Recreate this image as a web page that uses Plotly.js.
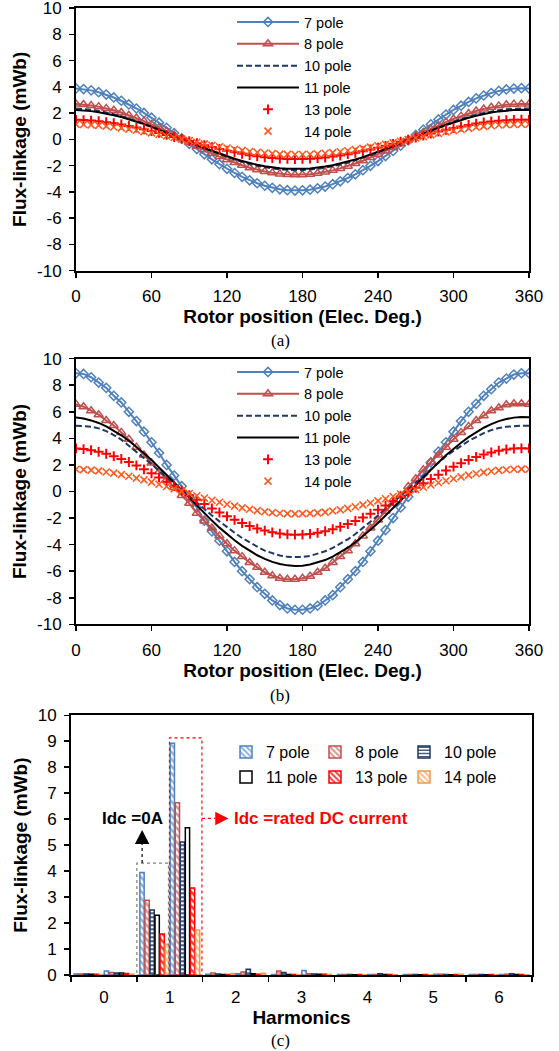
<!DOCTYPE html>
<html><head><meta charset="utf-8">
<script src="https://cdn.plot.ly/plotly-3.0.1.min.js"></script>
<style>html,body{margin:0;padding:0;background:#fff}#chart{width:559px;height:1051px}</style>
</head><body><div id="chart"></div>
<script>
// ---------- data ----------
const angles = [0,6,12,18,24,30,36,42,48,54,60,66,72,78,84,90,96,102,108,114,120,126,132,138,144,150,156,162,168,174,180,186,192,198,204,210,216,222,228,234,240,246,252,258,264,270,276,282,288,294,300,306,312,318,324,330,336,342,348,354,360];
const poleNames = ['7 pole','8 pole','10 pole','11 pole','13 pole','14 pole'];
const xTicks = [0,60,120,180,240,300,360];
const yTicks = [-10,-8,-6,-4,-2,0,2,4,6,8,10];
const yTickText = ['-10','-8','-6','-4','-2','0','2','4','6','8','10'];

// (a) Idc = 0
const a7 = [3.88,3.83,3.73,3.59,3.41,3.19,2.94,2.66,2.35,2.01,1.65,1.27,0.88,0.48,0.07,-0.34,-0.74,-1.14,-1.52,-1.89,-2.24,-2.56,-2.85,-3.12,-3.34,-3.53,-3.69,-3.80,-3.87,-3.90,-3.88,-3.83,-3.73,-3.59,-3.41,-3.19,-2.94,-2.66,-2.35,-2.01,-1.65,-1.27,-0.88,-0.48,-0.07,0.34,0.74,1.14,1.52,1.89,2.24,2.56,2.85,3.12,3.34,3.53,3.69,3.80,3.87,3.90,3.88];
const a8 = [2.69,2.65,2.58,2.49,2.36,2.21,2.04,1.84,1.63,1.39,1.14,0.88,0.61,0.33,0.05,-0.23,-0.52,-0.79,-1.06,-1.31,-1.55,-1.77,-1.97,-2.16,-2.31,-2.45,-2.55,-2.63,-2.68,-2.70,-2.69,-2.65,-2.58,-2.49,-2.36,-2.21,-2.04,-1.84,-1.63,-1.39,-1.14,-0.88,-0.61,-0.33,-0.05,0.23,0.52,0.79,1.06,1.31,1.55,1.77,1.97,2.16,2.31,2.45,2.55,2.63,2.68,2.70,2.69];
const a10 = [2.34,2.31,2.25,2.16,2.06,1.92,1.77,1.60,1.41,1.21,0.99,0.77,0.53,0.29,0.04,-0.20,-0.45,-0.69,-0.92,-1.14,-1.35,-1.54,-1.72,-1.88,-2.01,-2.13,-2.22,-2.29,-2.33,-2.35,-2.34,-2.31,-2.25,-2.16,-2.06,-1.92,-1.77,-1.60,-1.41,-1.21,-0.99,-0.77,-0.53,-0.29,-0.04,0.20,0.45,0.69,0.92,1.14,1.35,1.54,1.72,1.88,2.01,2.13,2.22,2.29,2.33,2.35,2.34];
const a11 = [2.24,2.21,2.15,2.07,1.97,1.84,1.70,1.53,1.35,1.16,0.95,0.73,0.51,0.27,0.04,-0.20,-0.43,-0.66,-0.88,-1.09,-1.29,-1.48,-1.64,-1.80,-1.93,-2.04,-2.13,-2.19,-2.23,-2.25,-2.24,-2.21,-2.15,-2.07,-1.97,-1.84,-1.70,-1.53,-1.35,-1.16,-0.95,-0.73,-0.51,-0.27,-0.04,0.20,0.43,0.66,0.88,1.09,1.29,1.48,1.64,1.80,1.93,2.04,2.13,2.19,2.23,2.25,2.24];
const a13 = [1.49,1.47,1.43,1.38,1.31,1.23,1.13,1.02,0.90,0.77,0.63,0.49,0.34,0.18,0.03,-0.13,-0.29,-0.44,-0.59,-0.73,-0.86,-0.98,-1.10,-1.20,-1.29,-1.36,-1.42,-1.46,-1.49,-1.50,-1.49,-1.47,-1.43,-1.38,-1.31,-1.23,-1.13,-1.02,-0.90,-0.77,-0.63,-0.49,-0.34,-0.18,-0.03,0.13,0.29,0.44,0.59,0.73,0.86,0.98,1.10,1.20,1.29,1.36,1.42,1.46,1.49,1.50,1.49];
const a14 = [1.15,1.13,1.10,1.06,1.01,0.94,0.87,0.78,0.69,0.59,0.49,0.37,0.26,0.14,0.02,-0.10,-0.22,-0.34,-0.45,-0.56,-0.66,-0.75,-0.84,-0.92,-0.99,-1.04,-1.09,-1.12,-1.14,-1.15,-1.15,-1.13,-1.10,-1.06,-1.01,-0.94,-0.87,-0.78,-0.69,-0.59,-0.49,-0.37,-0.26,-0.14,-0.02,0.10,0.22,0.34,0.45,0.56,0.66,0.75,0.84,0.92,0.99,1.04,1.09,1.12,1.14,1.15,1.15];

// (b) Idc = rated DC current
const b7 = [8.90,8.85,8.60,8.20,7.80,7.20,6.70,6.00,5.30,4.50,3.70,2.90,2.00,1.20,0.40,-0.40,-1.20,-2.20,-3.00,-3.70,-4.50,-5.30,-6.00,-6.60,-7.20,-7.70,-8.20,-8.55,-8.80,-8.90,-8.90,-8.80,-8.60,-8.20,-7.80,-7.20,-6.60,-6.00,-5.30,-4.50,-3.70,-2.90,-2.00,-1.20,-0.40,0.50,1.30,2.20,3.00,3.70,4.50,5.30,6.00,6.60,7.20,7.70,8.20,8.50,8.80,8.90,8.90];
const b8 = [6.56,6.38,6.08,5.78,5.34,4.97,4.45,3.93,3.34,2.75,2.15,1.49,0.89,0.30,-0.30,-0.89,-1.63,-2.22,-2.75,-3.34,-3.93,-4.45,-4.90,-5.34,-5.71,-6.08,-6.34,-6.53,-6.60,-6.60,-6.53,-6.38,-6.08,-5.78,-5.34,-4.90,-4.45,-3.93,-3.34,-2.75,-2.15,-1.49,-0.89,-0.30,0.37,0.96,1.63,2.22,2.75,3.34,3.93,4.45,4.90,5.34,5.71,6.08,6.30,6.53,6.60,6.60,6.56];
const b10 = [4.95,4.94,4.88,4.75,4.55,4.25,3.90,3.45,3.00,2.50,2.05,1.55,1.05,0.55,0.10,-0.35,-0.85,-1.35,-1.80,-2.25,-2.70,-3.10,-3.50,-3.85,-4.15,-4.45,-4.65,-4.82,-4.92,-4.95,-4.93,-4.85,-4.70,-4.50,-4.25,-3.95,-3.60,-3.20,-2.75,-2.30,-1.80,-1.30,-0.80,-0.30,0.20,0.70,1.20,1.70,2.20,2.65,3.05,3.45,3.80,4.10,4.40,4.62,4.78,4.88,4.94,4.95,4.95];
const b11 = [5.58,5.50,5.35,5.16,4.90,4.59,4.23,3.82,3.37,2.88,2.37,1.83,1.26,0.68,0.10,-0.49,-1.07,-1.64,-2.19,-2.72,-3.21,-3.67,-4.09,-4.47,-4.80,-5.07,-5.30,-5.45,-5.56,-5.60,-5.58,-5.50,-5.35,-5.16,-4.90,-4.59,-4.23,-3.82,-3.37,-2.88,-2.37,-1.83,-1.26,-0.68,-0.10,0.49,1.07,1.64,2.19,2.72,3.21,3.67,4.09,4.47,4.80,5.07,5.30,5.45,5.56,5.60,5.58];
const b13 = [3.24,3.19,3.11,2.99,2.84,2.66,2.45,2.22,1.96,1.67,1.37,1.06,0.73,0.40,0.06,-0.28,-0.62,-0.95,-1.27,-1.58,-1.87,-2.13,-2.38,-2.60,-2.79,-2.94,-3.07,-3.17,-3.23,-3.25,-3.24,-3.19,-3.11,-2.99,-2.84,-2.66,-2.45,-2.22,-1.96,-1.67,-1.37,-1.06,-0.73,-0.40,-0.06,0.28,0.62,0.95,1.27,1.58,1.87,2.13,2.38,2.60,2.79,2.94,3.07,3.17,3.23,3.25,3.24];
const b14 = [1.67,1.65,1.61,1.55,1.47,1.38,1.27,1.15,1.01,0.87,0.71,0.55,0.38,0.20,0.03,-0.15,-0.32,-0.49,-0.66,-0.81,-0.96,-1.10,-1.23,-1.34,-1.44,-1.52,-1.59,-1.64,-1.67,-1.68,-1.67,-1.65,-1.61,-1.55,-1.47,-1.38,-1.27,-1.15,-1.01,-0.87,-0.71,-0.55,-0.38,-0.20,-0.03,0.15,0.32,0.49,0.66,0.81,0.96,1.10,1.23,1.34,1.44,1.52,1.59,1.64,1.67,1.68,1.67];

// (c) harmonic amplitudes
const harmonics = ['0','1','2','3','4','5','6'];
const h7_0  = [0.04,3.95,0.03,0.02,0.02,0.02,0.02];
const h8_0  = [0.04,2.88,0.08,0.15,0.02,0.02,0.02];
const h10_0 = [0.04,2.50,0.04,0.10,0.02,0.02,0.02];
const h11_0 = [0.03,2.30,0.02,0.02,0.01,0.01,0.01];
const h13_0 = [0.03,1.58,0.02,0.02,0.02,0.02,0.02];
const h14_0 = [0.02,1.18,0.06,0.01,0.01,0.01,0.01];
const h7_r  = [0.15,8.92,0.05,0.17,0.02,0.03,0.02];
const h8_r  = [0.10,6.63,0.12,0.05,0.02,0.03,0.03];
const h10_r = [0.08,5.12,0.22,0.04,0.05,0.02,0.05];
const h11_r = [0.08,5.67,0.05,0.03,0.02,0.01,0.02];
const h13_r = [0.06,3.35,0.03,0.03,0.02,0.02,0.02];
const h14_r = [0.03,1.73,0.07,0.02,0.01,0.03,0.01];

// ---------- layout helpers ----------
const W = 559, H = 1051, ML = 71, MR = 27, MT = 7, MB = 76;
const PW = W - ML - MR, PH = H - MT - MB;
const px = v => (v - ML) / PW;
const py = v => 1 - (v - MT) / PH;

const FONT = 'Liberation Sans, Arial, sans-serif';
const SERIF = 'Liberation Serif, Times New Roman, serif';
const lineStyles = [
  {mode:'lines+markers', color:'#4F81BD', symbol:'diamond-open', size:7, mlw:1.5},
  {mode:'lines+markers', color:'#C0504D', symbol:'triangle-up-open', size:8, mlw:1.5},
  {mode:'lines', color:'#1F3864', dash:'6px,3px'},
  {mode:'lines', color:'#000000'},
  {mode:'markers', color:'#FF0000', symbol:'cross-thin-open', size:7, mlw:2},
  {mode:'markers', color:'#FF5A1F', symbol:'x-thin-open', size:7, mlw:1.6}
];
function lineTrace(i, y, xa, ya, lg) {
  const s = lineStyles[i];
  const t = {type:'scatter', x:angles, y:y, name:poleNames[i], mode:s.mode, xaxis:xa, yaxis:ya, legend:lg,
    line:{color:s.color, width:2, dash:s.dash || 'solid'}};
  if (s.symbol) t.marker = {symbol:s.symbol, size:s.size, color:s.color, line:{color:s.color, width:s.mlw}};
  return t;
}
const barStyles = [
  {line:'#4F81BD', pat:{shape:'\\', fgcolor:'#8DB3E2', bgcolor:'#ffffff', size:5, solidity:0.5}},
  {line:'#C0504D', pat:{shape:'\\', fgcolor:'#D99694', bgcolor:'#ffffff', size:5, solidity:0.5}},
  {line:'#1F3864', pat:{shape:'-', fgcolor:'#1F3864', bgcolor:'#ffffff', size:4, solidity:0.4}},
  {line:'#000000', pat:null},
  {line:'#FF0000', pat:{shape:'\\', fgcolor:'#FF4040', bgcolor:'#ffffff', size:5, solidity:0.5}},
  {line:'#F79646', pat:{shape:'\\', fgcolor:'#FAC090', bgcolor:'#ffffff', size:5, solidity:0.5}}
];
function barTrace(i, y, show) {
  const s = barStyles[i];
  const m = {color:'#ffffff', line:{color:s.line, width:1.5}};
  if (s.pat) m.pattern = s.pat;
  const t = {type:'bar', x:harmonics, y:y, name:poleNames[i], xaxis:'x3', yaxis:'y3', marker:m,
    legend: i < 3 ? 'legend3' : 'legend4', showlegend:show, legendgroup:'g'+i};
  if (i === 2 || i === 5) t.legendwidth = 62;
  return t;
}

const aSeries = [a7,a8,a10,a11,a13,a14];
const bSeries = [b7,b8,b10,b11,b13,b14];
const zeroSeries = [h7_0,h8_0,h10_0,h11_0,h13_0,h14_0];
const ratedSeries = [h7_r,h8_r,h10_r,h11_r,h13_r,h14_r];

const data = [];
aSeries.forEach((y,i) => data.push(lineTrace(i, y, 'x', 'y', 'legend')));
bSeries.forEach((y,i) => data.push(lineTrace(i, y, 'x2', 'y2', 'legend2')));
zeroSeries.forEach((y,i) => data.push(barTrace(i, y, true)));
ratedSeries.forEach((y,i) => data.push(barTrace(i, y, false)));

const tickFont = {family:FONT, size:17, color:'#000'};
const titleFont = {family:FONT, size:19, color:'#000', weight:'bold'};
const axisCommon = {showgrid:false, zeroline:false, showline:true, linecolor:'#000', linewidth:2, mirror:true,
  ticks:'outside', ticklen:5, tickwidth:1.5, tickcolor:'#000', tickfont:tickFont, ticklabeloverflow:'allow'};
function xAxisLine(dom, anchor) {
  return Object.assign({}, axisCommon, {domain:dom, anchor:anchor, range:[0,360], tickvals:xTicks, ticklabelstandoff:4,
    title:{text:'Rotor position (Elec. Deg.)', font:titleFont, standoff:3}});
}
function yAxisLine(dom, anchor) {
  return Object.assign({}, axisCommon, {domain:dom, anchor:anchor, range:[-10,10], tickvals:yTicks, ticktext:yTickText, ticklabelstandoff:4,
    title:{text:'Flux-linkage (mWb)', font:titleFont, standoff:5}});
}
const legFont = {family:FONT, size:14.5, color:'#000'};
const legC = {family:FONT, size:16, color:'#000'};

const layout = {
  width:W, height:H, margin:{l:ML, r:MR, t:MT, b:MB}, paper_bgcolor:'#fff', plot_bgcolor:'#fff',
  font:{family:FONT, color:'#000'},
  barmode:'group', bargap:0.08, bargroupgap:0.15,
  xaxis: xAxisLine([px(76), px(529)], 'y'),
  yaxis: yAxisLine([py(270), py(7)], 'x'),
  xaxis2: xAxisLine([px(76), px(529)], 'y2'),
  yaxis2: yAxisLine([py(624), py(358)], 'x2'),
  xaxis3: Object.assign({}, axisCommon, {domain:[px(71), px(532)], anchor:'y3', type:'category', range:[-0.5,6.5], tickson:'boundaries',
    ticklabelstandoff:6, title:{text:'Harmonics', font:titleFont, standoff:2}}),
  yaxis3: Object.assign({}, axisCommon, {domain:[py(975), py(715)], anchor:'x3', range:[0,10], dtick:1, ticklabelstandoff:4,
    title:{text:'Flux-linkage (mWb)', font:titleFont, standoff:5}}),
  legend: {x:px(232), y:py(6), xanchor:'left', yanchor:'top', bgcolor:'rgba(0,0,0,0)', font:legFont, itemwidth:62, tracegroupgap:0},
  legend2:{x:px(232), y:py(356), xanchor:'left', yanchor:'top', bgcolor:'rgba(0,0,0,0)', font:legFont, itemwidth:62, tracegroupgap:0},
  legend3:{x:px(226), y:py(735), xanchor:'left', yanchor:'top', bgcolor:'rgba(0,0,0,0)', font:legC, orientation:'h', entrywidth:44, entrywidthmode:'pixels'},
  legend4:{x:px(226), y:py(760), xanchor:'left', yanchor:'top', bgcolor:'rgba(0,0,0,0)', font:legC, orientation:'h', entrywidth:44, entrywidthmode:'pixels'},
  shapes: [
    {type:'rect', xref:'x3', yref:'y3', x0:0.5, x1:0.98, y0:0, y1:4.31, line:{color:'#7F7F7F', width:1.2, dash:'dot'}},
    {type:'line', xref:'x3', yref:'y3', x0:0.58, x1:0.58, y0:4.31, y1:5.04, line:{color:'#000', width:1.2, dash:'dot'}},
    {type:'path', xref:'x3', yref:'y3', path:'M 0.47 5.04 L 0.69 5.04 L 0.58 5.58 Z', fillcolor:'#000', line:{width:0}},
    {type:'rect', xref:'x3', yref:'y3', x0:0.995, x1:1.488, y0:0, y1:9.13, line:{color:'#FF0000', width:1.2, dash:'dot'}},
    {type:'line', xref:'x3', yref:'y3', x0:1.488, x1:1.69, y0:6.03, y1:6.03, line:{color:'#FF0000', width:1.2, dash:'dot'}},
    {type:'path', xref:'x3', yref:'y3', path:'M 1.69 6.29 L 1.69 5.77 L 1.89 6.03 Z', fillcolor:'#FF0000', line:{width:0}}
  ],
  annotations: [
    {xref:'x3', yref:'y3', x:0.43, y:6.03, text:'<b>Idc =0A</b>', showarrow:false, font:{family:FONT, size:17, color:'#000'}},
    {xref:'x3', yref:'y3', x:1.945, y:6.03, xanchor:'left', text:'<b>Idc =rated DC current</b>', showarrow:false, font:{family:FONT, size:17, color:'#FF0000'}},
    {xref:'paper', yref:'paper', x:px(280), y:py(340), xanchor:'center', yanchor:'middle', text:'(a)', showarrow:false, font:{family:SERIF, size:17, color:'#000'}},
    {xref:'paper', yref:'paper', x:px(280), y:py(695), xanchor:'center', yanchor:'middle', text:'(b)', showarrow:false, font:{family:SERIF, size:17, color:'#000'}},
    {xref:'paper', yref:'paper', x:px(280), y:py(1041), xanchor:'center', yanchor:'middle', text:'(c)', showarrow:false, font:{family:SERIF, size:17, color:'#000'}}
  ]
};

Plotly.newPlot('chart', data, layout, {displayModeBar:false, staticPlot:true});
</script>
</body></html>
